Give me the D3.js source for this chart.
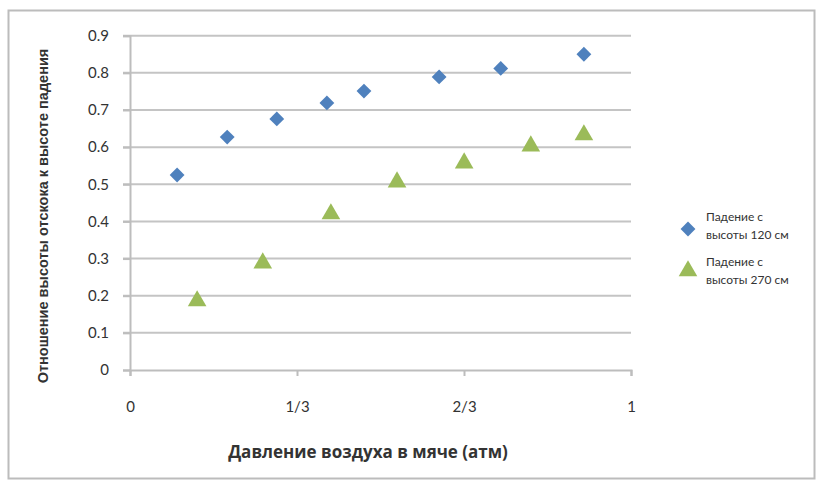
<!DOCTYPE html>
<html><head><meta charset="utf-8">
<script src="https://cdn.jsdelivr.net/npm/d3@7"></script>
<style>body{margin:0;background:#fff}svg{display:block}</style>
</head><body>
<svg id="c" width="816" height="481"></svg>
<script>
const xTickValues = [0, 1/3, 2/3, 1];
const xTickLabels = ["0", "1/3", "2/3", "1"];
const yTickValues = [0, 0.1, 0.2, 0.3, 0.4, 0.5, 0.6, 0.7, 0.8, 0.9];
const s120x = [0.094, 0.194, 0.293, 0.393, 0.467, 0.617, 0.740, 0.906];
const s120y = [0.525, 0.627, 0.676, 0.719, 0.751, 0.789, 0.812, 0.850];
const s270x = [0.134, 0.265, 0.401, 0.533, 0.667, 0.800, 0.906];
const s270y = [0.186, 0.288, 0.420, 0.506, 0.557, 0.603, 0.633];
const seriesNames = [["Падение с", "высоты 120 см"], ["Падение с", "высоты 270 см"]];
const colors = ["#4F81BD", "#9BBB59"];
const xTitle = "Давление воздуха в мяче (атм)";
const yTitle = "Отношение высоты отскока к высоте падения";

const svg = d3.select("#c");
// outer frame
svg.append("rect").attr("x", 8.5).attr("y", 10.5).attr("width", 806).attr("height", 468)
  .attr("fill", "#fff").attr("stroke", "#bcbcbc").attr("stroke-width", 2);

const x = d3.scaleLinear().domain([0, 1]).range([130, 631]);
const y = d3.scaleLinear().domain([0, 0.9]).range([370, 35.7]);
const textCol = "#333";
const font = "Lato, 'Open Sans', sans-serif";

// gridlines
svg.append("g").selectAll("line").data(yTickValues.filter(v => v > 0)).join("line")
  .attr("x1", 123).attr("x2", x(1)).attr("y1", d => y(d)).attr("y2", d => y(d))
  .attr("stroke", "#c4c4c4").attr("stroke-width", 2);

// y axis
const yAxis = svg.append("g").attr("transform", `translate(${x(0)},0)`)
  .call(d3.axisLeft(y).tickValues(yTickValues).tickFormat(d3.format(".1~f")).tickSize(7).tickPadding(14));
yAxis.select(".domain").attr("stroke", "#bdbdbd").attr("stroke-width", 2);
yAxis.selectAll(".tick line").attr("stroke", "#bdbdbd").attr("stroke-width", 2);
yAxis.selectAll("text").attr("fill", textCol).style("font-family", font).style("font-size", "15px");

// x axis
const xAxis = svg.append("g").attr("transform", `translate(0,${y(0)})`)
  .call(d3.axisBottom(x).tickValues(xTickValues).tickFormat((d, i) => xTickLabels[i]).tickSize(6).tickPadding(25));
xAxis.select(".domain").attr("stroke", "#bdbdbd").attr("stroke-width", 2);
xAxis.selectAll(".tick line").attr("stroke", "#bdbdbd").attr("stroke-width", 2);
xAxis.selectAll("text").attr("fill", textCol).style("font-family", font).style("font-size", "15px");

// titles
svg.append("text").attr("x", 368).attr("y", 458).attr("text-anchor", "middle")
  .attr("fill", textCol).style("font-family", "'Open Sans', sans-serif").style("font-size", "17px").style("font-weight", "bold")
  .text(xTitle);
svg.append("text").attr("transform", "translate(48,216) rotate(-90)").attr("text-anchor", "middle")
  .attr("fill", textCol).style("font-family", "'Liberation Sans', Arial, sans-serif").style("font-size", "14.5px")
  .style("font-weight", "bold").text(yTitle);

const diamond = d3.symbol().type(d3.symbolDiamond2).size(140)();
const tri = d3.symbol().type(d3.symbolTriangle).size(150)();

svg.append("g").selectAll("path").data(s120x.map((v, i) => [v, s120y[i]])).join("path")
  .attr("d", diamond).attr("transform", d => `translate(${x(d[0])},${y(d[1])})`).attr("fill", colors[0]);
svg.append("g").selectAll("path").data(s270x.map((v, i) => [v, s270y[i]])).join("path")
  .attr("d", tri).attr("transform", d => `translate(${x(d[0])},${y(d[1])})`).attr("fill", colors[1]);

// legend
const leg = [[diamond, 229, 217], [tri, 271, 262]];
leg.forEach((l, i) => {
  svg.append("path").attr("d", l[0]).attr("transform", `translate(688,${l[1]})`).attr("fill", colors[i]);
  const t = svg.append("text").attr("x", 706).attr("y", l[2] + 4).attr("fill", textCol)
    .style("font-family", font).style("font-size", "12px");
  t.append("tspan").attr("x", 706).text(seriesNames[i][0]);
  t.append("tspan").attr("x", 706).attr("dy", 18).text(seriesNames[i][1]);
});
</script>
</body></html>
